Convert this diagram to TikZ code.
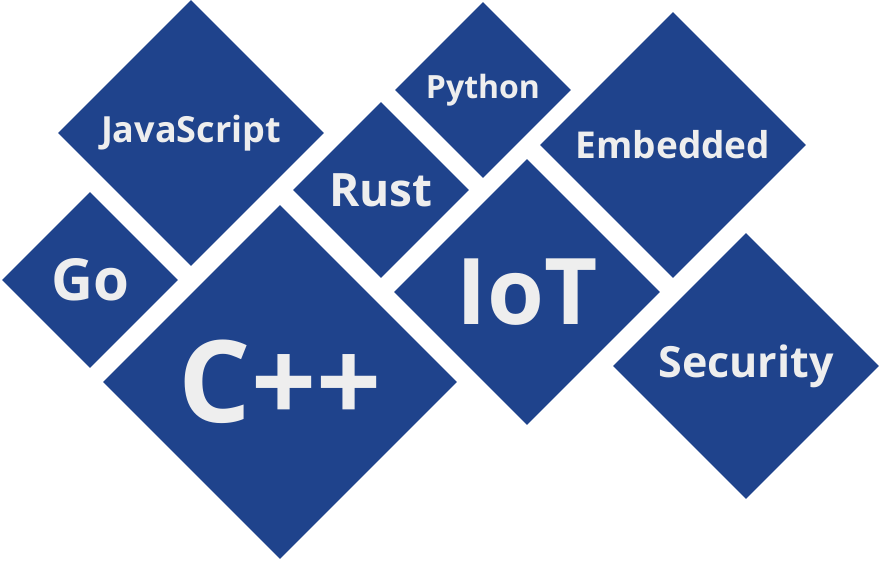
\documentclass[tikz,border=0pt]{standalone}
\usepackage{fontspec}
\setmainfont{Open Sans}
\usetikzlibrary{shapes.geometric}
\definecolor{tile}{HTML}{1F438C}
\definecolor{txt}{HTML}{EEEEEE}
\tikzset{tile/.style={diamond,shape aspect=1,fill=tile,inner sep=0pt,text=txt,font=\bfseries,minimum width=2*#1,minimum height=2*#1}}
\begin{document}
\begin{tikzpicture}[x=1pt,y=-1pt]
\useasboundingbox (0,0) rectangle (880,560);
\node[tile=133pt] (js) at (191,133) {\fontsize{36}{36}\selectfont JavaScript};
\node[tile=88pt] (go) at (90,280) {\fontsize{58}{58}\selectfont Go};
\node[tile=177pt] (cpp) at (280,382) {\fontsize{114}{114}\selectfont C++};
\node[tile=88pt] (rust) at (381,190) {\fontsize{46}{46}\selectfont Rust};
\node[tile=88pt] (py) at (483,90) {\fontsize{32}{32}\selectfont Python};
\node[tile=133pt] (emb) at (673,145) {\fontsize{37}{37}\selectfont Embedded};
\node[tile=133pt] (iot) at (527,292) {\fontsize{92}{92}\selectfont IoT};
\node[tile=133pt] (sec) at (746,366) {\fontsize{43}{43}\selectfont Security};
\end{tikzpicture}
\end{document}
